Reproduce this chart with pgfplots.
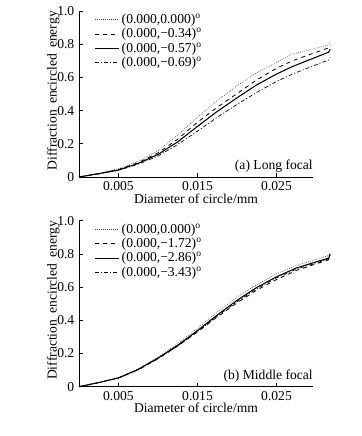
\documentclass[border=0pt]{standalone}
\usepackage{fontspec}
\setmainfont{Liberation Serif}
\usepackage{pgfplots}
\pgfplotsset{compat=1.18}

\newcommand{\fs}{\fontsize{10.2}{10.5}\selectfont}
\pgfplotsset{
  myaxis/.style={
    scale only axis,
    width=175.5pt, height=124.5pt,
    xmin=0, xmax=0.02962, ymin=0, ymax=1,
    axis x line=bottom, axis y line=left,
    axis line style={-, line width=0.6pt},
    clip=false,
    scaled x ticks=false,
    xtick={0.005,0.015,0.025},
    xticklabels={0.005,0.015,0.025},
    ytick={0,0.2,0.4,0.6,0.8,1.0},
    yticklabels={0,0.2,0.4,0.6,0.8,1.0},
    tick align=inside,
    major tick length=3pt,
    tick style={line width=0.5pt, black},
    ticklabel style={font=\fs},
    xlabel={Diameter of circle/mm},
    ylabel={Diffraction\hspace{0.45em}encircled\hspace{0.45em}energy},
    label style={font=\fs},
    x label style={at={(axis description cs:0.5,-0.13)},anchor=center},
    y label style={at={(axis description cs:-0.11,0.52)},anchor=center,rotate=0},
    legend cell align=left,
    legend style={draw=none, fill=none, at={(axis description cs:0.065,1.0)}, anchor=north west,
      font=\fs, row sep=-1.8pt, inner sep=0pt},
    legend image code/.code={\draw[#1] (0cm,0cm) -- (0.62cm,0cm);},
  },
  s1/.style={black!75, line width=0.5pt, densely dotted},
  s2/.style={black, line width=0.6pt, dashed},
  s3/.style={black, line width=0.8pt},
  s4/.style={black, line width=0.5pt, dash pattern=on 3pt off 1.5pt on 0.8pt off 1.5pt},
}

\begin{document}
\begin{tikzpicture}
\useasboundingbox (0,0) rectangle (270.75pt,327pt);

% (a) Long focal
\begin{axis}[myaxis, at={(59.25pt,194.25pt)}, anchor=south west]
\addplot[s1] coordinates {(0,0) (0.0025,0.022) (0.005,0.05) (0.0075,0.095) (0.01,0.158) (0.0125,0.252) (0.015,0.36) (0.0175,0.46) (0.02,0.55) (0.0225,0.628) (0.025,0.69) (0.027,0.74) (0.0316,0.795) (0.0318,0.815)};
\addlegendentry{(0.000,0.000)\textsuperscript{o}}
\addplot[s2] coordinates {(0,0) (0.0025,0.02) (0.005,0.045) (0.0075,0.087) (0.01,0.145) (0.0125,0.228) (0.015,0.33) (0.0175,0.42) (0.02,0.502) (0.0225,0.585) (0.025,0.655) (0.027,0.70) (0.0316,0.778) (0.0318,0.795)};
\addlegendentry{(0.000,−0.34)\textsuperscript{o}}
\addplot[s3] coordinates {(0,0) (0.0025,0.02) (0.005,0.042) (0.0075,0.082) (0.01,0.136) (0.0125,0.212) (0.015,0.305) (0.0175,0.395) (0.02,0.477) (0.0225,0.555) (0.025,0.62) (0.027,0.665) (0.0316,0.752) (0.0318,0.77)};
\addlegendentry{(0.000,−0.57)\textsuperscript{o}}
\addplot[s4] coordinates {(0,0) (0.0025,0.019) (0.005,0.04) (0.0075,0.077) (0.01,0.126) (0.0125,0.196) (0.015,0.276) (0.0175,0.36) (0.02,0.437) (0.0225,0.51) (0.025,0.575) (0.027,0.62) (0.0316,0.705) (0.0318,0.72)};
\addlegendentry{(0.000,−0.69)\textsuperscript{o}}
\node[anchor=east, inner sep=0pt, font=\fs] at (axis description cs:1,0.066) {(a) Long focal};
\end{axis}

% (b) Middle focal
\begin{axis}[myaxis, at={(59.25pt,36.98pt)}, anchor=south west]
\addplot[s1] coordinates {(0,0) (0.0025,0.025) (0.005,0.055) (0.0075,0.108) (0.01,0.178) (0.0125,0.26) (0.015,0.352) (0.0175,0.45) (0.02,0.54) (0.0225,0.615) (0.025,0.68) (0.0275,0.73) (0.0316,0.79) (0.0318,0.81)};
\addlegendentry{(0.000,0.000)\textsuperscript{o}}
\addplot[s2] coordinates {(0,0) (0.0025,0.025) (0.005,0.052) (0.0075,0.102) (0.01,0.168) (0.0125,0.245) (0.015,0.33) (0.0175,0.42) (0.02,0.505) (0.0225,0.582) (0.025,0.645) (0.0275,0.70) (0.0316,0.765) (0.0318,0.785)};
\addlegendentry{(0.000,−1.72)\textsuperscript{o}}
\addplot[s3] coordinates {(0,0) (0.0025,0.025) (0.005,0.053) (0.0075,0.104) (0.01,0.172) (0.0125,0.25) (0.015,0.338) (0.0175,0.432) (0.02,0.52) (0.0225,0.598) (0.025,0.662) (0.0275,0.715) (0.0316,0.775) (0.0318,0.80)};
\addlegendentry{(0.000,−2.86)\textsuperscript{o}}
\addplot[s4] coordinates {(0,0) (0.0025,0.025) (0.005,0.053) (0.0075,0.103) (0.01,0.17) (0.0125,0.246) (0.015,0.332) (0.0175,0.425) (0.02,0.512) (0.0225,0.59) (0.025,0.655) (0.0275,0.708) (0.0316,0.77) (0.0318,0.79)};
\addlegendentry{(0.000,−3.43)\textsuperscript{o}}
\node[anchor=east, inner sep=0pt, font=\fs] at (axis description cs:1,0.066) {(b) Middle focal};
\end{axis}
\end{tikzpicture}
\end{document}
